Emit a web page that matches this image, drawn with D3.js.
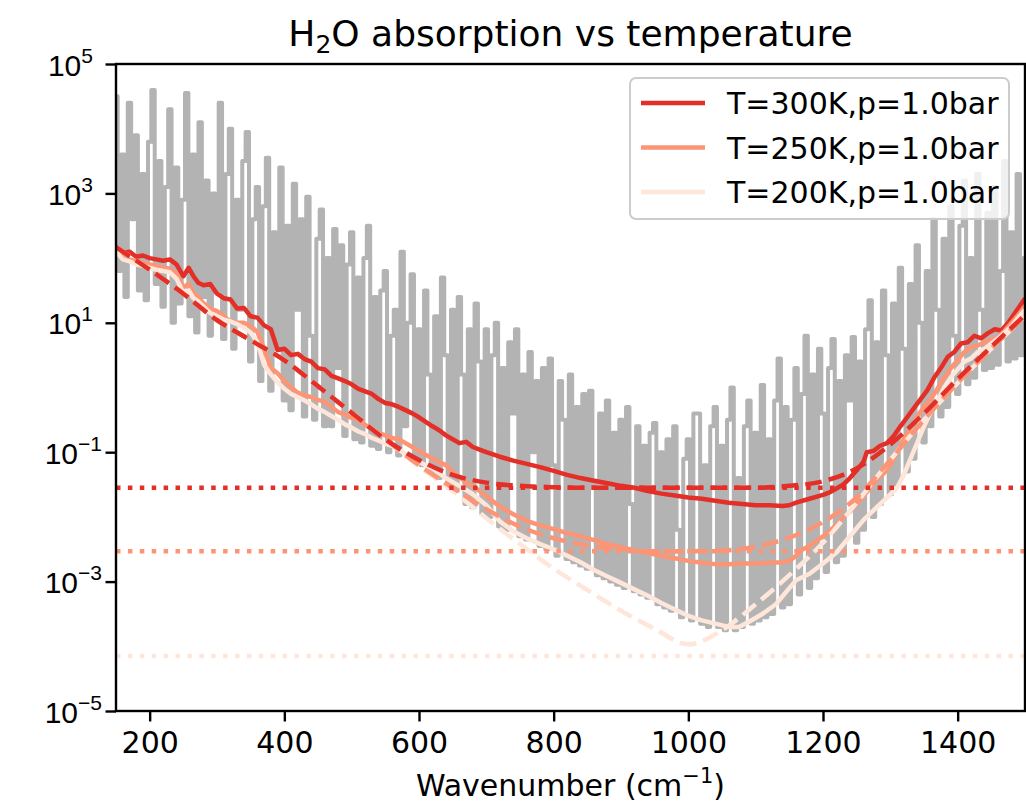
<!DOCTYPE html>
<html>
<head>
<meta charset="utf-8">
<script src="https://cdn.jsdelivr.net/npm/d3@7"></script>
<style>
  body { margin: 0; background: #fff; }
  svg { display: block; font-family: "DejaVu Sans", sans-serif; }
</style>
</head>
<body>
<div id="chart"></div>
<script>
// raw spectrum, log10(k), sampled every 5 cm-1 starting at 150
const specStart = 150;
const specStep = 5;
const spectrumLog = [
  4.5, 1.8, 3.6, 1.4, 4.4, 2.6, 3.9, 1.5, 3.3, 1.35,
  3.8, 4.6, 1.6, 3.5, 1.25, 3.1, 4.3, 1.0, 3.4, 1.3,
  2.9, 4.55, 1.1, 3.6, 0.85, 4.1, 1.4, 3.2, 0.8, 3.0,
  1.5, 4.4, 0.75, 3.3, 4.0, 0.6, 2.9, 1.2, 3.5, 3.95,
  0.4, 2.6, 3.1, 0.1, 2.8, 3.55, -0.05, 2.4, 0.6, 3.4,
  -0.2, 2.5, -0.35, 3.15, 1.2, 2.6, -0.45, 2.95, 0.8, -0.5,
  2.3, 2.75, -0.6, 2.0, -0.6, 2.45, 0.3, 2.2, -0.75, 1.9,
  2.4, -0.8, 1.7, -0.85, 2.0, 2.5, -0.9, 1.4, -0.95, 1.5,
  1.8, -1.0, 0.8, 1.2, -1.05, 2.1, -0.6, 1.0, 1.75, -1.15,
  0.9, -1.2, 1.5, 0.2, -1.35, 1.1, -1.4, 1.7, 0.5, -1.55,
  1.2, -1.6, 1.4, 0.2, -1.8, 0.9, -1.85, 1.3, 0.4, -1.95,
  0.9, -2.0, 0.5, 1.0, -2.15, 0.3, -2.2, 0.7, -0.4, 0.9,
  -2.3, 0.2, -2.35, 0.55, -1.0, 0.1, -2.45, 0.3, -2.5, 0.45,
  -1.2, -2.6, 0.1, -0.5, -2.65, 0.2, -2.7, -0.3, -2.75, -0.1,
  -2.8, -0.05, -1.5, -2.9, -0.4, -2.95, -0.2, -3.0, -0.7, -3.05,
  -0.5, -3.1, -0.3, -1.8, -3.15, -0.6, -3.2, -0.9, -3.25, -0.7,
  -0.55, -3.35, -1.0, -3.4, -0.8, -3.45, -0.6, -2.2, -3.55, -1.1,
  -0.8, -3.6, -0.4, -0.4, -3.65, -1.2, -3.7, -0.6, -0.3, -3.7,
  -0.9, -3.75, -0.5, 0.0, -3.75, -1.4, -3.7, -0.6, -0.2, -3.65,
  -0.7, -3.6, 0.04, -3.55, -0.8, -3.5, -0.2, 0.45, -3.4, -0.3,
  -3.35, -0.5, 0.3, -3.2, -0.1, 0.8, -3.1, 0.2, -2.95, 0.6,
  -0.4, -2.85, 0.3, 0.75, -2.7, 0.1, -2.6, 0.5, -0.2, 0.78,
  -2.4, 0.4, -2.2, 0.9, 1.35, -2.0, 0.7, -1.8, 1.5, 0.5,
  -1.65, 1.3, -1.5, 1.85, 0.6, -1.3, 1.6, -1.1, 2.2, 1.0,
  -0.85, 1.8, -0.6, 2.6, 1.2, -0.45, 2.3, -0.3, 2.8, 0.8,
  -0.1, 2.5, 3.2, 0.05, 2.0, 0.15, 3.3, 1.2, 0.27, 2.7,
  0.3, 3.1, 0.35, 1.8, 3.5, 0.4, 2.4, 0.45, 3.3, 0.5,
  2.0
];

// band-averaged curves [wavenumber, log10(k)]
const smooth300 = [[150,2.17],[160,2.08],[170,2.1],[180,2.02],[190,2.04],[200,2.0],[210,1.98],[220,1.96],[230,1.98],[240,1.9],[250,1.72],[258,1.85],[265,1.72],[272,1.62],[280,1.58],[290,1.6],[300,1.45],[310,1.38],[320,1.36],[330,1.22],[340,1.23],[350,1.1],[360,1.08],[370,0.96],[380,0.9],[390,0.58],[400,0.6],[410,0.5],[420,0.52],[430,0.44],[440,0.4],[450,0.3],[460,0.28],[470,0.18],[480,0.14],[490,0.1],[500,0.05],[510,-0.02],[520,-0.06],[530,-0.1],[540,-0.18],[550,-0.24],[560,-0.26],[570,-0.3],[580,-0.35],[590,-0.4],[600,-0.46],[610,-0.53],[620,-0.6],[630,-0.66],[640,-0.74],[650,-0.8],[660,-0.86],[670,-0.84],[680,-0.92],[690,-0.96],[700,-1.0],[720,-1.07],[740,-1.13],[760,-1.18],[780,-1.23],[800,-1.29],[820,-1.35],[840,-1.4],[860,-1.44],[880,-1.48],[900,-1.52],[920,-1.55],[940,-1.6],[960,-1.64],[980,-1.67],[1000,-1.7],[1020,-1.72],[1040,-1.75],[1060,-1.78],[1080,-1.8],[1100,-1.82],[1120,-1.82],[1140,-1.83],[1150,-1.82],[1160,-1.78],[1180,-1.72],[1200,-1.66],[1210,-1.62],[1220,-1.56],[1230,-1.5],[1240,-1.4],[1250,-1.28],[1260,-1.15],[1265,-1.0],[1275,-0.98],[1285,-0.9],[1295,-0.86],[1305,-0.75],[1315,-0.6],[1325,-0.46],[1335,-0.32],[1345,-0.18],[1355,-0.04],[1365,0.15],[1375,0.3],[1385,0.47],[1395,0.55],[1405,0.68],[1415,0.7],[1425,0.8],[1435,0.76],[1445,0.84],[1455,0.9],[1465,0.88],[1475,1.0],[1485,1.15],[1495,1.3],[1500,1.38]];

const smooth250 = [[150,2.12],[160,2.0],[170,1.98],[180,1.95],[190,1.92],[200,1.9],[210,1.88],[220,1.85],[230,1.84],[240,1.75],[250,1.55],[258,1.6],[265,1.45],[272,1.4],[280,1.3],[290,1.22],[300,1.18],[310,1.1],[320,1.02],[330,1.0],[340,1.0],[350,0.95],[360,0.86],[370,0.6],[380,0.3],[390,0.22],[400,0.1],[410,0.0],[420,-0.08],[430,-0.12],[440,-0.15],[450,-0.19],[460,-0.22],[470,-0.3],[480,-0.38],[490,-0.42],[500,-0.47],[510,-0.5],[520,-0.58],[530,-0.64],[540,-0.7],[550,-0.74],[560,-0.78],[570,-0.8],[580,-0.86],[590,-0.92],[600,-0.98],[610,-1.04],[620,-1.1],[630,-1.15],[640,-1.2],[650,-1.3],[660,-1.38],[670,-1.47],[680,-1.52],[690,-1.6],[700,-1.68],[710,-1.76],[720,-1.84],[730,-1.9],[740,-1.96],[760,-2.06],[780,-2.13],[800,-2.19],[820,-2.25],[840,-2.3],[860,-2.36],[880,-2.42],[900,-2.47],[920,-2.52],[940,-2.56],[960,-2.6],[980,-2.64],[1000,-2.68],[1020,-2.71],[1040,-2.73],[1060,-2.73],[1080,-2.72],[1100,-2.72],[1120,-2.71],[1140,-2.7],[1150,-2.68],[1160,-2.6],[1170,-2.5],[1180,-2.45],[1190,-2.37],[1200,-2.3],[1210,-2.22],[1220,-2.12],[1230,-2.0],[1240,-1.92],[1250,-1.8],[1260,-1.68],[1270,-1.55],[1280,-1.42],[1290,-1.33],[1300,-1.2],[1310,-1.0],[1320,-0.8],[1330,-0.62],[1340,-0.45],[1350,-0.3],[1360,-0.18],[1370,-0.02],[1380,0.15],[1390,0.3],[1400,0.42],[1410,0.55],[1420,0.62],[1430,0.65],[1440,0.7],[1450,0.74],[1460,0.78],[1470,0.88],[1480,1.0],[1490,1.12],[1500,1.26]];

const smooth200 = [[150,2.1],[160,1.98],[170,1.95],[180,1.9],[190,1.88],[200,1.85],[210,1.82],[220,1.8],[230,1.78],[240,1.68],[250,1.46],[258,1.5],[265,1.38],[272,1.33],[280,1.25],[290,1.15],[300,1.1],[310,1.05],[320,1.02],[330,0.98],[340,0.92],[350,0.85],[360,0.7],[370,0.35],[380,0.2],[390,0.08],[400,-0.02],[410,-0.1],[420,-0.15],[430,-0.2],[440,-0.26],[450,-0.33],[460,-0.38],[470,-0.44],[480,-0.5],[490,-0.57],[500,-0.62],[510,-0.68],[520,-0.72],[530,-0.78],[540,-0.82],[550,-0.87],[560,-0.9],[570,-0.96],[580,-1.03],[590,-1.1],[600,-1.15],[620,-1.25],[640,-1.4],[660,-1.52],[680,-1.65],[700,-1.82],[720,-2.07],[740,-2.22],[760,-2.33],[780,-2.42],[800,-2.5],[820,-2.6],[840,-2.7],[860,-2.82],[880,-2.92],[900,-3.02],[920,-3.12],[940,-3.22],[960,-3.33],[980,-3.43],[1000,-3.53],[1020,-3.6],[1040,-3.65],[1060,-3.7],[1075,-3.7],[1090,-3.62],[1110,-3.5],[1130,-3.35],[1150,-3.1],[1160,-2.98],[1180,-2.88],[1200,-2.72],[1220,-2.55],[1240,-2.3],[1260,-2.05],[1280,-1.85],[1300,-1.65],[1310,-1.55],[1320,-1.35],[1330,-1.1],[1340,-0.85],[1350,-0.6],[1360,-0.38],[1370,-0.2],[1380,0.0],[1390,0.16],[1400,0.28],[1410,0.4],[1420,0.45],[1430,0.55],[1440,0.6],[1450,0.68],[1460,0.76],[1470,0.85],[1480,0.95],[1490,1.08],[1500,1.2]];

// fitted continuum (dashed)
const fit300 = [[150,2.17],[200,1.82],[250,1.45],[300,1.04],[350,0.73],[400,0.42],[450,0.02],[500,-0.39],[550,-0.8],[600,-1.12],[650,-1.35],[700,-1.47],[750,-1.52],[800,-1.54],[850,-1.55],[900,-1.55],[950,-1.55],[1000,-1.55],[1050,-1.55],[1100,-1.55],[1150,-1.52],[1200,-1.45],[1250,-1.25],[1300,-0.88],[1350,-0.4],[1400,0.13],[1450,0.63],[1500,1.12]];
const fit250 = [[150,2.17],[200,1.82],[250,1.45],[300,1.04],[350,0.73],[400,0.42],[450,0.02],[500,-0.39],[550,-0.8],[600,-1.2],[650,-1.55],[700,-1.88],[750,-2.15],[800,-2.33],[850,-2.44],[900,-2.5],[950,-2.53],[1000,-2.53],[1050,-2.52],[1100,-2.46],[1150,-2.32],[1200,-2.08],[1250,-1.7],[1300,-1.12],[1350,-0.5],[1400,0.07],[1450,0.6],[1500,1.1]];
const fit200 = [[150,2.17],[200,1.82],[250,1.45],[300,1.04],[350,0.73],[400,0.42],[450,0.02],[500,-0.39],[550,-0.8],[600,-1.22],[650,-1.6],[700,-2.02],[750,-2.42],[800,-2.8],[850,-3.13],[900,-3.45],[950,-3.73],[1000,-3.97],[1050,-3.75],[1100,-3.35],[1150,-2.9],[1200,-2.4],[1250,-1.78],[1300,-1.12],[1350,-0.5],[1400,0.07],[1450,0.6],[1500,1.1]];

// constant level (dotted), log10
const levels = [-1.55, -2.53, -4.15];

const labels = ['T=300K,p=1.0bar', 'T=250K,p=1.0bar', 'T=200K,p=1.0bar'];
const colors = ['#e32f27', '#fc9576', '#fee6da'];

const xTicks = [200, 400, 600, 800, 1000, 1200, 1400];
const yTickExp = [-5, -3, -1, 1, 3, 5];

const width = 1026, height = 805;
const margin = {top: 64, right: 1, bottom: 94, left: 116};

const svg = d3.select('#chart').append('svg')
  .attr('width', width)
  .attr('height', height);

const x = d3.scaleLinear()
  .domain([150, 1500])
  .range([margin.left, width - margin.right]);

const y = d3.scaleLog()
  .domain([1e-5, 1e5])
  .range([height - margin.bottom, margin.top]);

svg.append('clipPath').attr('id', 'plot-clip')
  .append('rect')
  .attr('x', margin.left).attr('y', margin.top)
  .attr('width', width - margin.right - margin.left)
  .attr('height', height - margin.bottom - margin.top);

const plot = svg.append('g').attr('clip-path', 'url(#plot-clip)');

const line = d3.line()
  .x(d => x(d[0]))
  .y(d => y(Math.pow(10, d[1])));

const specData = spectrumLog.map((v, i) => [specStart + i * specStep, v]);

// spiky raw spectrum: step curve gives vertical line-like spikes
plot.append('path')
  .datum(specData)
  .attr('d', d3.line().curve(d3.curveStep).x(d => x(d[0])).y(d => y(Math.pow(10, d[1]))))
  .attr('fill', 'none')
  .attr('stroke', '#b3b3b3')
  .attr('stroke-width', 4)
  .attr('stroke-linejoin', 'round');

// smoothed spectra
[smooth300, smooth250, smooth200].forEach((s, i) => {
  plot.append('path')
    .datum(s)
    .attr('d', line)
    .attr('fill', 'none')
    .attr('stroke', colors[i])
    .attr('stroke-width', 4.5)
    .attr('stroke-linejoin', 'round');
});

// fits, red drawn last
const fitLine = d3.line()
  .curve(d3.curveMonotoneX)
  .x(d => x(d[0]))
  .y(d => y(Math.pow(10, d[1])));

[fit200, fit250, fit300].forEach((f, j) => {
  const i = 2 - j;
  plot.append('path')
    .datum(f)
    .attr('d', fitLine)
    .attr('fill', 'none')
    .attr('stroke', colors[i])
    .attr('stroke-width', 4.5)
    .attr('stroke-dasharray', '16.6,7.2');
});

levels.forEach((lv, i) => {
  plot.append('line')
    .attr('x1', x(150)).attr('x2', x(1500))
    .attr('y1', y(Math.pow(10, lv))).attr('y2', y(Math.pow(10, lv)))
    .attr('stroke', colors[i])
    .attr('stroke-width', 4.5)
    .attr('stroke-dasharray', '4.5,7.4');
});

// axes
const xAxis = svg.append('g')
  .attr('transform', `translate(0,${height - margin.bottom})`)
  .call(d3.axisBottom(x).tickValues(xTicks).tickFormat(d3.format('d')).tickSize(10.5).tickPadding(10));

const yAxis = svg.append('g')
  .attr('transform', `translate(${margin.left},0)`)
  .call(d3.axisLeft(y).tickValues(yTickExp.map(e => Math.pow(10, e))).tickSize(10.5).tickFormat(''));

[xAxis, yAxis].forEach(g => {
  g.select('.domain').remove();
  g.selectAll('.tick line').attr('stroke', '#000').attr('stroke-width', 2.4);
});

xAxis.selectAll('.tick text')
  .attr('font-size', 30)
  .attr('font-family', 'DejaVu Sans')
  .attr('fill', '#000');

yAxis.selectAll('.tick').each(function(d, i) {
  const e = yTickExp[i];
  const t = d3.select(this).append('text')
    .attr('x', e < 0 ? -14 : -23)
    .attr('y', 11)
    .attr('text-anchor', 'end')
    .attr('font-size', 30)
    .attr('fill', '#000');
  t.append('tspan').text('10');
  t.append('tspan')
    .attr('dy', -13)
    .attr('font-size', 21)
    .text(e < 0 ? '\u2212' + Math.abs(e) : String(e));
});

// frame
svg.append('rect')
  .attr('x', margin.left).attr('y', margin.top)
  .attr('width', width - margin.right - margin.left)
  .attr('height', height - margin.bottom - margin.top)
  .attr('fill', 'none')
  .attr('stroke', '#000')
  .attr('stroke-width', 2.4);

// title
const title = svg.append('text')
  .attr('x', (margin.left + width - margin.right) / 2)
  .attr('y', 46)
  .attr('text-anchor', 'middle')
  .attr('font-size', 36)
  .attr('fill', '#000');
title.append('tspan').text('H');
title.append('tspan').attr('dy', 7).attr('font-size', 25).text('2');
title.append('tspan').attr('dy', -7).text('O absorption vs temperature');

// x label
const xLabel = svg.append('text')
  .attr('x', (margin.left + width - margin.right) / 2)
  .attr('y', 796)
  .attr('text-anchor', 'middle')
  .attr('font-size', 30)
  .attr('fill', '#000');
xLabel.append('tspan').text('Wavenumber (cm');
xLabel.append('tspan').attr('dy', -13).attr('font-size', 21).text('\u22121');
xLabel.append('tspan').attr('dy', 13).text(')');

// legend
const legend = svg.append('g').attr('transform', 'translate(630,78)');
legend.append('rect')
  .attr('width', 379).attr('height', 141)
  .attr('rx', 6)
  .attr('fill', '#fff').attr('fill-opacity', 0.8)
  .attr('stroke', '#cccccc').attr('stroke-width', 2);

labels.forEach((lab, i) => {
  const row = legend.append('g').attr('transform', `translate(0,${25 + i * 44.5})`);
  row.append('line')
    .attr('x1', 11).attr('x2', 75)
    .attr('stroke', colors[i])
    .attr('stroke-width', 4.5);
  row.append('text')
    .attr('x', 97).attr('y', 11)
    .attr('font-size', 30)
    .attr('fill', '#000')
    .text(lab);
});
</script>
</body>
</html>
